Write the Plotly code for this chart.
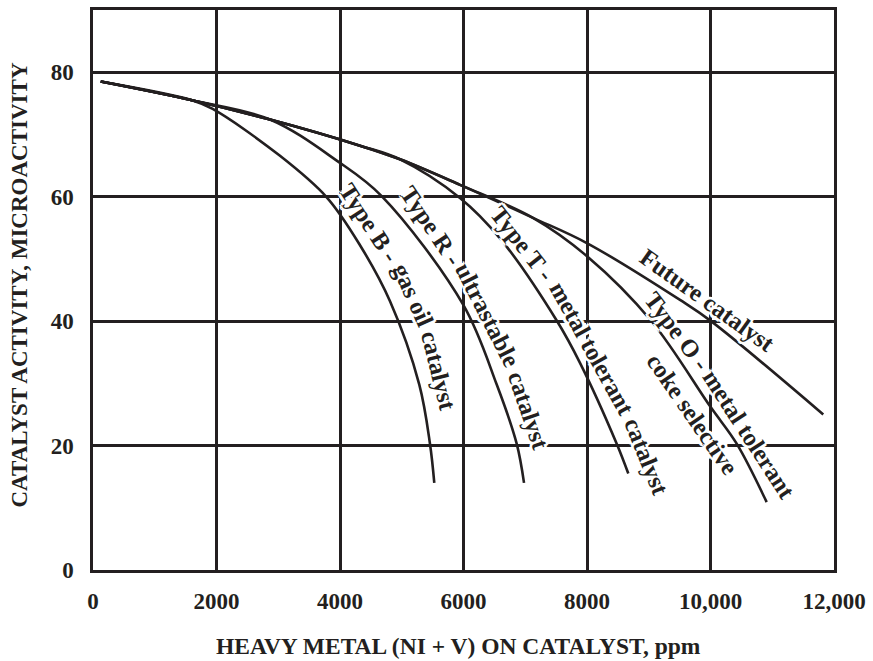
import plotly.graph_objects as go

# ---- data ----
x_ticks = [0, 2000, 4000, 6000, 8000, 10000, 12000]
x_ticktext = ["0", "2000", "4000", "6000", "8000", "10,000", "12,000"]
y_ticks = [0, 20, 40, 60, 80]

type_b_x = [125, 1603, 1938, 3023, 3785, 4324, 4810, 5284, 5457, 5527]
type_b_y = [78.5, 75.5, 74.1, 66.6, 59.9, 52.2, 43.2, 29.8, 20.3, 14.0]

type_r_x = [125, 1603, 2866, 3947, 4675, 5997, 6538, 6861, 6980]
type_r_y = [78.5, 75.5, 72.4, 65.8, 60.1, 42.6, 29.8, 20.3, 14.0]

type_t_x = [125, 1603, 2866, 4324, 4972, 5943, 6591, 7509, 7886, 8481, 8669]
type_t_y = [78.5, 75.5, 72.4, 68.2, 66.0, 59.8, 53.3, 40.1, 33.3, 20.3, 15.5]

type_o_x = [125, 1603, 2866, 4324, 4972, 5943, 7125, 8005, 9036, 10008, 10424, 10910]
type_o_y = [78.5, 75.5, 72.4, 68.2, 66.0, 61.9, 56.6, 50.4, 40.1, 26.1, 20.3, 10.9]

future_x = [125, 1603, 2866, 4324, 4972, 5943, 7125, 8005, 9506, 10008, 11826]
future_y = [78.5, 75.5, 72.4, 68.2, 66.0, 61.9, 56.6, 52.5, 43.4, 40.0, 25.0]

# curve labels, set word-group by word-group along the curves:
# text, centre (data units), angle
label_text = ["Type B -", "gas oil", "catalyst",
              "Type R -", "ultrastable", "catalyst",
              "Type T -", "metal tolerant", "catalyst",
              "Type O -", "metal tolerant",
              "coke selective",
              "Future catalyst"]
label_x = [4470, 5179, 5595,
           5480, 6387, 7053,
           6957, 8084, 8965,
           9473, 10630,
           9716,
           9959]
label_y = [55.8, 44.2, 32.0,
           55.4, 41.0, 25.6,
           52.5, 35.6, 18.2,
           38.4, 21.8,
           25.0,
           43.3]
label_angle = [57, 66, 76,
               56, 63, 71,
               52, 61, 68,
               53, 57,
               55.4,
               35.5]

INK = "#231f20"
FONT = "Liberation Serif"
HALO = ("3px 0 0 white, -3px 0 0 white, 0 3px 0 white, 0 -3px 0 white, "
        "2px 2px 0 white, -2px -2px 0 white, 2px -2px 0 white, -2px 2px 0 white")

fig = go.Figure()
for xs, ys in [(type_b_x, type_b_y), (type_r_x, type_r_y), (type_t_x, type_t_y),
               (type_o_x, type_o_y), (future_x, future_y)]:
    fig.add_trace(go.Scatter(x=xs, y=ys, mode="lines",
                             line=dict(color=INK, width=2.6, shape="spline", smoothing=1.0),
                             hoverinfo="skip", showlegend=False))

for t, x, y, a in zip(label_text, label_x, label_y, label_angle):
    fig.add_annotation(x=x, y=y, xref="x", yref="y", text=t, textangle=a,
                       showarrow=False, xanchor="center", yanchor="middle",
                       font=dict(family=FONT, size=24.5, color=INK, weight="bold",
                                 shadow=HALO))

fig.add_annotation(x=0.4926, y=-0.135, xref="paper", yref="paper",
                   text="HEAVY METAL (NI + V) ON CATALYST, ppm", showarrow=False,
                   xanchor="center", yanchor="middle",
                   font=dict(family=FONT, size=23.5, color=INK, weight="bold"))
fig.add_annotation(x=-0.0992, y=0.5089, xref="paper", yref="paper",
                   text="CATALYST ACTIVITY, MICROACTIVITY", showarrow=False, textangle=-90,
                   xanchor="center", yanchor="middle",
                   font=dict(family=FONT, size=23, color=INK, weight="bold"))

axis_common = dict(showgrid=True, gridcolor=INK, gridwidth=2.5, showline=True,
                   linecolor=INK, linewidth=2.5, mirror=True, zeroline=False, ticks="",
                   tickfont=dict(family=FONT, size=23, color=INK, weight="bold"))
fig.update_xaxes(range=[0, 12000], tickvals=x_ticks, ticktext=x_ticktext,
                 ticklabelstandoff=9, **axis_common)
fig.update_yaxes(range=[0, 90], tickvals=y_ticks, ticklabelstandoff=12, **axis_common)

fig.update_layout(width=873, height=661, margin=dict(l=93, r=39, t=7, b=91),
                  paper_bgcolor="white", plot_bgcolor="white")

fig.write_html("out.html", config={"displayModeBar": False},
               post_script="document.body.style.margin='0px';")
